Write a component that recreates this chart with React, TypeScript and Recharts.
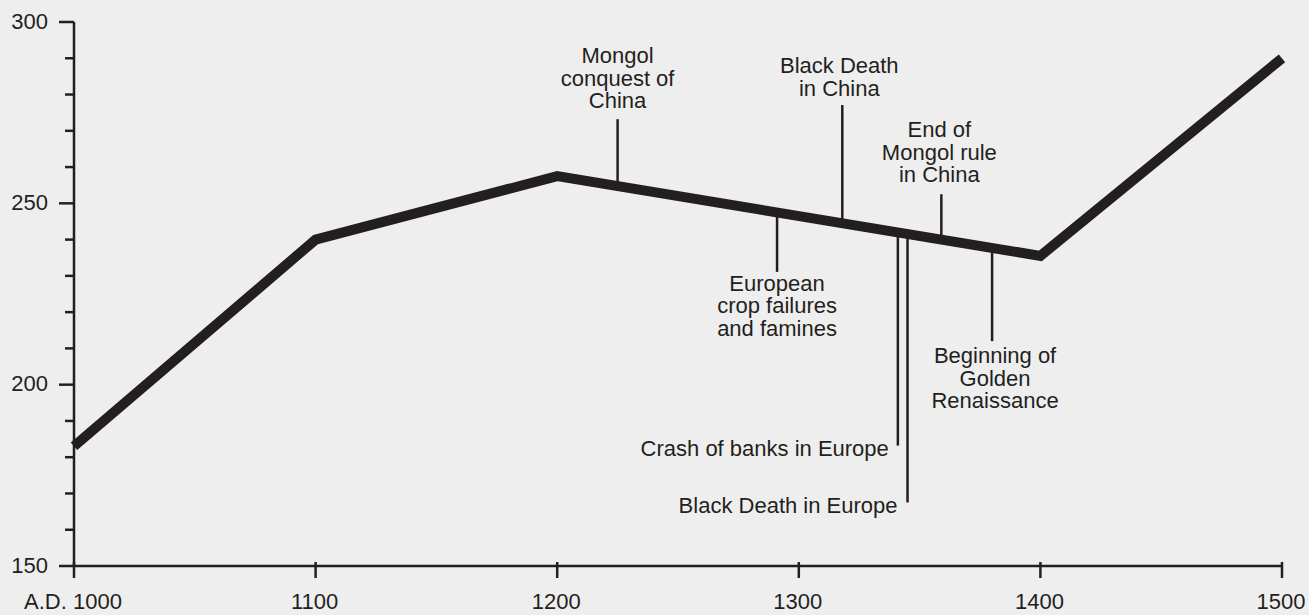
import { LineChart, Line, XAxis, YAxis, ReferenceLine, ReferenceDot } from 'recharts';

// main series
const years = [1000, 1100, 1200, 1400, 1500];
const population = [183, 240, 257.5, 235.5, 290];

const xTicks = [1000, 1100, 1200, 1300, 1400, 1500];
const xTickLabels = ['A.D. 1000', '1100', '1200', '1300', '1400', '1500'];
const yMajorTicks = [150, 200, 250, 300];
const yMinorTicks = [160, 170, 180, 190, 210, 220, 230, 240, 260, 270, 280, 290];

// events: where the stick sits on the line and where it ends
const eventLabels = [
  ['Mongol', 'conquest of', 'China'],
  ['Black Death', 'in China'],
  ['European', 'crop failures', 'and famines'],
  ['End of', 'Mongol rule', 'in China'],
  ['Crash of banks in Europe'],
  ['Black Death in Europe'],
  ['Beginning of', 'Golden', 'Renaissance'],
];
const eventYears = [1225, 1318, 1291, 1359, 1341, 1345, 1380];
const eventBase = [254.7, 244.5, 247.4, 239.9, 241.9, 241.5, 237.6];
const eventEnd = [273.2, 277.1, 231.1, 252.5, 183.2, 167.5, 212.0];

// label placement relative to the stick end (px)
const labelLayout = [
  { anchor: 'middle', dx: 0, dy: -56 },
  { anchor: 'middle', dx: -3, dy: -32 },
  { anchor: 'middle', dx: 0, dy: 19 },
  { anchor: 'middle', dx: -2, dy: -57 },
  { anchor: 'end', dx: -9, dy: 10 },
  { anchor: 'end', dx: -10, dy: 10 },
  { anchor: 'middle', dx: 3, dy: 22 },
];

const INK = '#231f20';
const FONT = '"Liberation Sans", Arial, Helvetica, sans-serif';
const LINE_H = 22.5;

const data = years.map((y, i) => ({ year: y, pop: population[i] }));

function XTick(props: any) {
  const { x, y, payload } = props;
  const idx = xTicks.indexOf(payload.value);
  return (
    <g>
      <line x1={x} x2={x} y1={y - 4} y2={y + 12} stroke={INK} strokeWidth={2.5} />
      <text x={x - 1} y={y + 43} textAnchor="middle" fontSize={22} fill={INK} fontFamily={FONT}>
        {xTickLabels[idx]}
      </text>
    </g>
  );
}

function YTick(props: any) {
  const { x, y, payload } = props;
  const major = yMajorTicks.includes(payload.value);
  return (
    <g>
      <line x1={major ? x - 15 : x - 9} x2={x} y1={y} y2={y} stroke={INK} strokeWidth={2.5} />
      {major && (
        <text x={x - 26} y={y + 6.5} textAnchor="end" fontSize={22} fill={INK} fontFamily={FONT}>
          {payload.value}
        </text>
      )}
    </g>
  );
}

function EventLabel({ cx, cy, lines, layout }: any) {
  return (
    <text textAnchor={layout.anchor} fontSize={22} fill={INK} fontFamily={FONT}>
      {lines.map((t: string, i: number) => (
        <tspan key={i} x={cx + layout.dx} y={cy + layout.dy + i * LINE_H}>
          {t}
        </tspan>
      ))}
    </text>
  );
}

export default function App() {
  return (
    <div style={{ position: 'absolute', left: 0, top: 0, width: 1309, height: 615, background: '#eeeeee', overflow: 'hidden' }}>
      <LineChart width={1309} height={615} data={data} margin={{ top: 22, right: 27, bottom: 0, left: 0 }}>
        <XAxis
          dataKey="year"
          type="number"
          domain={[1000, 1500]}
          ticks={xTicks}
          interval={0}
          height={49}
          tickSize={0}
          tickMargin={0}
          tickLine={false}
          axisLine={{ stroke: INK, strokeWidth: 2.5 }}
          tick={<XTick />}
        />
        <YAxis
          type="number"
          domain={[150, 300]}
          ticks={[...yMajorTicks, ...yMinorTicks].sort((a, b) => a - b)}
          interval={0}
          width={74}
          tickSize={0}
          tickMargin={0}
          tickLine={false}
          axisLine={{ stroke: INK, strokeWidth: 2.5 }}
          tick={<YTick />}
        />
        {eventYears.map((yr, i) => (
          <ReferenceLine
            key={'s' + i}
            segment={[{ x: yr, y: eventBase[i] }, { x: yr, y: eventEnd[i] }]}
            stroke={INK}
            strokeWidth={2.5}
            ifOverflow="visible"
          />
        ))}
        <Line
          type="linear"
          dataKey="pop"
          stroke={INK}
          strokeWidth={10}
          strokeLinejoin="miter"
          strokeLinecap="butt"
          dot={false}
          activeDot={false}
          isAnimationActive={false}
        />
        {eventYears.map((yr, i) => (
          <ReferenceDot
            key={'l' + i}
            x={yr}
            y={eventEnd[i]}
            r={0}
            ifOverflow="visible"
            shape={(p: any) => <EventLabel cx={p.cx} cy={p.cy} lines={eventLabels[i]} layout={labelLayout[i]} />}
          />
        ))}
      </LineChart>
    </div>
  );
}
